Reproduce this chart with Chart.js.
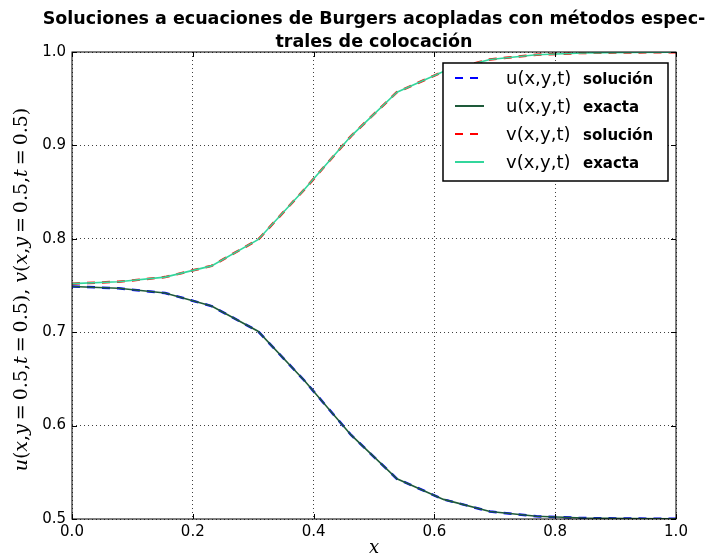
<!DOCTYPE html>
<html>
<head>
<meta charset="utf-8">
<script src="https://cdn.jsdelivr.net/npm/chart.js@4/dist/chart.umd.min.js"></script>
<style>
  body { margin: 0; background: #fff; }
  canvas { display: block; }
</style>
</head>
<body>
<canvas id="burgers" width="707" height="558"></canvas>
<script>
// Sample points along x (y = 0.5, t = 0.5)
const xs = [0.0, 0.077, 0.154, 0.231, 0.308, 0.385, 0.462, 0.538, 0.615, 0.692, 0.769, 0.846, 0.923, 1.0];
// u: collocation solution and exact solution
const uSolucion = [0.749, 0.747, 0.742, 0.728, 0.701, 0.648, 0.590, 0.543, 0.521, 0.508, 0.503, 0.501, 0.5005, 0.5002];
const uExacta = [0.749, 0.747, 0.742, 0.728, 0.701, 0.648, 0.590, 0.543, 0.521, 0.508, 0.503, 0.501, 0.5005, 0.5002];
// v: collocation solution and exact solution
const vSolucion = [0.752, 0.754, 0.759, 0.771, 0.799, 0.853, 0.910, 0.957, 0.979, 0.992, 0.997, 0.999, 0.9995, 0.9998];
const vExacta = [0.752, 0.754, 0.759, 0.771, 0.799, 0.853, 0.910, 0.957, 0.979, 0.992, 0.997, 0.999, 0.9995, 0.9998];

const xTicks = [0.0, 0.2, 0.4, 0.6, 0.8, 1.0];
const yTicks = [0.5, 0.6, 0.7, 0.8, 0.9, 1.0];

const titleLines = [
  "Soluciones a ecuaciones de Burgers acopladas con métodos espec-",
  "trales de colocación",
];
const yTitle = "u(x,y=0.5,t=0.5), v(x,y=0.5,t=0.5)";
const xTitle = "x";

function toPoints(values) {
  return xs.map((x, i) => ({ x: x, y: values[i] }));
}

// Draws a string where latin letters are italic and the rest upright (math style)
function mathText(ctx, str, size) {
  const it = "italic " + size + "px 'DejaVu Serif'";
  const up = size + "px 'DejaVu Serif'";
  const parts = [];
  let total = 0;
  for (const ch of str) {
    const font = /[a-z]/.test(ch) ? it : up;
    ctx.font = font;
    let w = ctx.measureText(ch).width;
    // a bit of room around relations, like TeX does
    if (ch === "=") w += 8;
    parts.push({ ch, font, w });
    total += w;
  }
  let x = -total / 2;
  ctx.textAlign = "left";
  ctx.textBaseline = "middle";
  for (const p of parts) {
    ctx.font = p.font;
    ctx.fillText(p.ch, p.ch === "=" ? x + 4 : x, 0);
    x += p.w;
  }
}

// Title, frame, inward ticks, axis titles and the legend box
const decorations = {
  id: "decorations",
  afterDatasetsDraw(chart) {
    const { ctx, chartArea: a, scales } = chart;
    const cx = (a.left + a.right) / 2;
    ctx.save();

    // two-line title centred over the plot
    ctx.fillStyle = "#000";
    ctx.textAlign = "center";
    ctx.textBaseline = "middle";
    ctx.font = "bold 17.5px 'DejaVu Sans'";
    titleLines.forEach((line, i) => ctx.fillText(line, cx, 19 + i * 23));

    ctx.strokeStyle = "#000";
    ctx.lineWidth = 1;
    ctx.setLineDash([]);
    ctx.strokeRect(a.left, a.top, a.right - a.left, a.bottom - a.top);

    const tl = 5;
    ctx.beginPath();
    xTicks.forEach((v) => {
      const px = Math.round(scales.x.getPixelForValue(v)) + 0.5;
      ctx.moveTo(px, a.bottom); ctx.lineTo(px, a.bottom - tl);
      ctx.moveTo(px, a.top); ctx.lineTo(px, a.top + tl);
    });
    yTicks.forEach((v) => {
      const py = Math.round(scales.y.getPixelForValue(v)) + 0.5;
      ctx.moveTo(a.left, py); ctx.lineTo(a.left + tl, py);
      ctx.moveTo(a.right, py); ctx.lineTo(a.right - tl, py);
    });
    ctx.stroke();

    // axis titles
    ctx.save();
    ctx.translate(22, (a.top + a.bottom) / 2 + 4);
    ctx.rotate(-Math.PI / 2);
    mathText(ctx, yTitle, 19);
    ctx.restore();
    ctx.save();
    ctx.translate(cx, 548);
    mathText(ctx, xTitle, 18);
    ctx.restore();

    // legend
    const box = { x: 443, y: 63, w: 225, h: 118 };
    ctx.fillStyle = "#fff";
    ctx.fillRect(box.x, box.y, box.w, box.h);
    ctx.lineWidth = 1.5;
    ctx.strokeStyle = "#000";
    ctx.strokeRect(box.x, box.y, box.w, box.h);
    chart.data.datasets.forEach((ds, i) => {
      const cy = box.y + 15 + i * 28;
      ctx.beginPath();
      ctx.lineWidth = 2;
      ctx.strokeStyle = ds.borderColor;
      ctx.setLineDash(ds.borderDash || []);
      ctx.moveTo(455, cy);
      ctx.lineTo(484, cy);
      ctx.stroke();
      ctx.setLineDash([]);
      const cut = ds.label.lastIndexOf(" ");
      ctx.fillStyle = "#000";
      ctx.textAlign = "left";
      ctx.textBaseline = "alphabetic";
      ctx.font = "18px 'DejaVu Sans'";
      ctx.fillText(ds.label.slice(0, cut), 506, cy + 6);
      ctx.font = "bold 15px 'DejaVu Sans'";
      ctx.fillText(ds.label.slice(cut + 1), 583, cy + 6);
    });
    ctx.restore();
  },
};

const gridOpts = { color: "rgba(0,0,0,0.75)", lineWidth: 1, drawTicks: false };
const borderOpts = { display: false, dash: [1, 3] };
const tickFont = { family: "'DejaVu Sans'", size: 15 };

const config = {
  type: "line",
  data: {
    datasets: [
      { label: "u(x,y,t) solución", data: toPoints(uSolucion), borderColor: "#0000ff", borderDash: [8, 7], borderWidth: 2.5, order: 3 },
      { label: "u(x,y,t) exacta", data: toPoints(uExacta), borderColor: "#1e5a3a", borderWidth: 1.6, order: 1 },
      { label: "v(x,y,t) solución", data: toPoints(vSolucion), borderColor: "#ff0000", borderDash: [8, 7], borderWidth: 2.5, order: 2 },
      { label: "v(x,y,t) exacta", data: toPoints(vExacta), borderColor: "#33d69c", borderWidth: 1.6, order: 0 },
    ],
  },
  options: {
    responsive: false,
    animation: false,
    layout: { padding: { left: 0, right: 31, top: 52, bottom: 0 } },
    elements: { point: { radius: 0 }, line: { tension: 0, fill: false } },
    scales: {
      x: {
        type: "linear",
        min: 0,
        max: 1,
        grid: gridOpts,
        border: borderOpts,
        afterBuildTicks: (scale) => { scale.ticks = xTicks.map((v) => ({ value: v })); },
        afterFit: (scale) => { scale.height = 558 - 519; },
        ticks: { color: "#000", font: tickFont, padding: 4, callback: (v) => v.toFixed(1) },
      },
      y: {
        min: 0.5,
        max: 1.0,
        grid: gridOpts,
        border: borderOpts,
        afterBuildTicks: (scale) => { scale.ticks = yTicks.map((v) => ({ value: v })); },
        afterFit: (scale) => { scale.width = 72; },
        ticks: { color: "#000", font: tickFont, padding: 6, callback: (v) => v.toFixed(1) },
      },
    },
    plugins: {
      legend: { display: false },
      tooltip: { enabled: false },
      title: { display: false },
    },
  },
  plugins: [decorations],
};

new Chart(document.getElementById("burgers").getContext("2d"), config);
</script>
</body>
</html>
